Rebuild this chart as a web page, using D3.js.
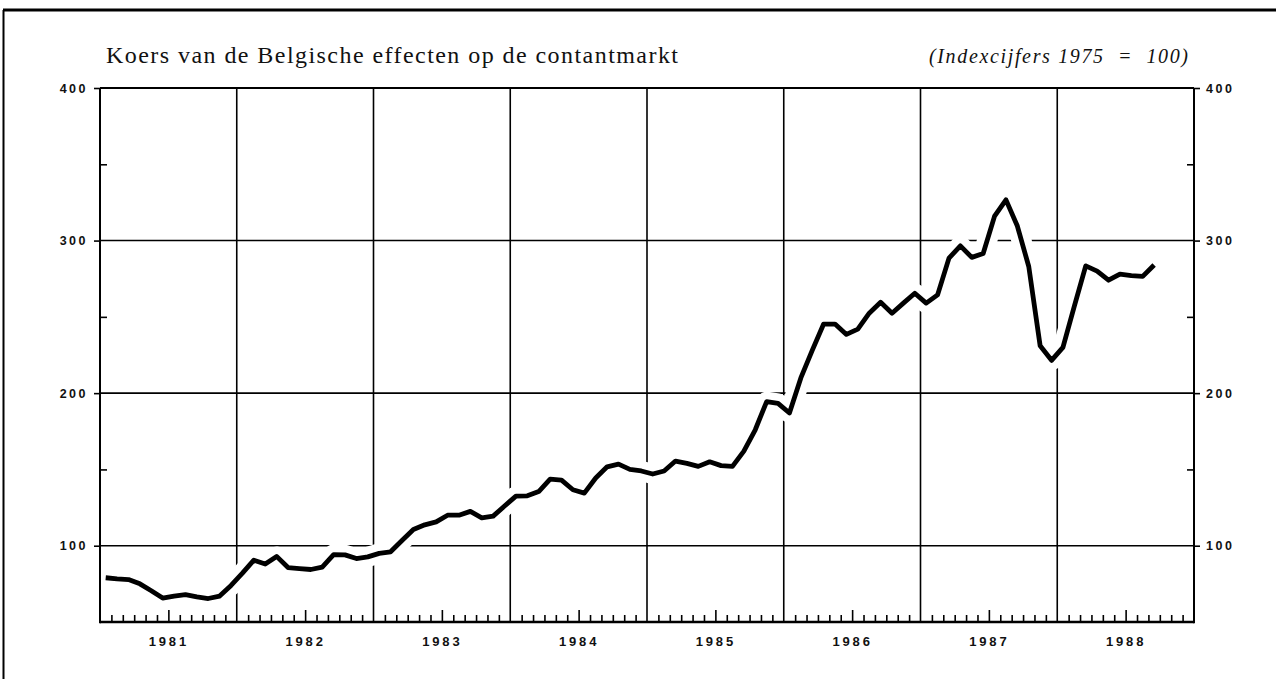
<!DOCTYPE html>
<html>
<head>
<meta charset="utf-8">
<script src="https://cdn.jsdelivr.net/npm/d3@7"></script>
<style>
  html, body { margin: 0; padding: 0; background: #fff; }
  svg { display: block; }
  .ylab { font-family: "Liberation Sans", Arial, sans-serif; font-weight: bold; font-size: 12.5px; letter-spacing: 2.5px; fill: #111; }
  .xlab { font-family: "Liberation Sans", Arial, sans-serif; font-weight: bold; font-size: 13px; letter-spacing: 2.8px; fill: #111; }
</style>
</head>
<body>
<svg id="chart" width="1276" height="679"></svg>
<script>
// ---- data (monthly index, 1975 = 100), Jan 1981 .. Sep 1988 ----
const years = [1981, 1982, 1983, 1984, 1985, 1986, 1987, 1988];
const values1981 = [79, 78.3, 77.8, 75, 70.5, 65.7, 67, 68, 66.5, 65.4, 67, 74];
const values1982 = [82, 90.5, 88, 93, 85.7, 85, 84.4, 86, 94.2, 94, 91.6, 92.7];
const values1983 = [95, 96, 103.4, 110.6, 113.7, 115.6, 120, 120, 122.5, 118.3, 119.4, 126];
const values1984 = [132.5, 132.7, 135.5, 143.6, 143, 136.7, 134.5, 144.4, 151.7, 153.5, 150, 149];
const values1985 = [147, 149, 155.5, 154, 152, 155, 152.5, 152, 162, 176, 194.4, 193.3];
const values1986 = [187, 210, 228, 245.3, 245.3, 238.5, 242, 252.4, 259.6, 252.4, 259, 265.5];
const values1987 = [259, 264.4, 288.5, 296.5, 289, 291.5, 316, 326.7, 309.5, 283, 231, 221.5];
const values1988 = [230, 257, 283.4, 280, 274, 278, 277, 276.5, 284];
const yMajorTicks = [100, 200, 300, 400];
const yMinorTicks = [150, 250, 350];
const titleText = "Koers van de Belgische effecten op de contantmarkt";
const subtitleText = "(Indexcijfers 1975  =  100)";

const series = [].concat(values1981, values1982, values1983, values1984,
                         values1985, values1986, values1987, values1988);

// ---- layout ----
const L = 100, R = 1194, T = 88, B = 622;
const svg = d3.select("#chart");

const x = d3.scaleLinear().domain([0, years.length * 12]).range([L, R]);
const y = d3.scaleLinear().domain([50, 400]).range([B, T]);

// outer page frame (top + left)
svg.append("line").attr("x1", 3).attr("x2", 1276).attr("y1", 10).attr("y2", 10)
  .attr("stroke", "#000").attr("stroke-width", 3);
svg.append("line").attr("x1", 3.5).attr("x2", 3.5).attr("y1", 10).attr("y2", 679)
  .attr("stroke", "#000").attr("stroke-width", 2);

// title
svg.append("text").attr("x", 106).attr("y", 63)
  .attr("font-family", "'Liberation Serif', 'Times New Roman', serif")
  .attr("font-size", 24).attr("fill", "#111")
  .attr("textLength", 572).attr("lengthAdjust", "spacing")
  .text(titleText);
svg.append("text").attr("x", 929).attr("y", 63)
  .attr("font-family", "'Liberation Serif', 'Times New Roman', serif")
  .attr("font-style", "italic").attr("font-size", 20).attr("fill", "#111")
  .style("white-space", "pre")
  .attr("textLength", 259).attr("lengthAdjust", "spacing")
  .text(subtitleText);

// gridlines
const grid = svg.append("g");
grid.selectAll("line.h").data([100, 200, 300]).join("line")
  .attr("x1", L).attr("x2", R).attr("y1", d => y(d)).attr("y2", d => y(d))
  .attr("stroke", "#000").attr("stroke-width", 1.6);
grid.selectAll("line.v").data(d3.range(1, years.length)).join("line")
  .attr("x1", d => x(d * 12)).attr("x2", d => x(d * 12)).attr("y1", T).attr("y2", B)
  .attr("stroke", "#000").attr("stroke-width", 1.6);

// the line (with white halo interrupting gridlines)
const line = d3.line().x((d, i) => x(i + 0.5)).y(d => y(d)).curve(d3.curveLinear);
svg.append("path").datum(series).attr("d", line)
  .attr("fill", "none").attr("stroke", "#fff").attr("stroke-width", 20)
  .attr("stroke-linejoin", "round").attr("stroke-linecap", "round");
svg.append("path").datum(series).attr("d", line)
  .attr("fill", "none").attr("stroke", "#000").attr("stroke-width", 4.8)
  .attr("stroke-linejoin", "round").attr("stroke-linecap", "butt");

// monthly ticks on bottom axis (inside)
const monthTicks = d3.range(1, years.length * 12).filter(m => m % 12 !== 0);
const xAxis = svg.append("g").attr("transform", `translate(0,${B})`)
  .call(d3.axisBottom(x).tickValues(monthTicks).tickSize(-7).tickFormat(""));
xAxis.select(".domain").remove();
xAxis.selectAll(".tick line").attr("stroke", "#000").attr("stroke-width", 1.6)
  .attr("y2", d => d % 12 === 6 ? -12 : -7);

// year labels
const yearAxis = svg.append("g").attr("transform", `translate(0,${B})`)
  .call(d3.axisBottom(x).tickValues(years.map((yr, i) => i * 12 + 6)).tickSize(0).tickPadding(15)
    .tickFormat((d) => years[(d - 6) / 12]));
yearAxis.select(".domain").remove();
yearAxis.selectAll("text").attr("class", "xlab").attr("font-size", null).attr("font-family", null).attr("fill", null);

// y axes
function yAxisGroup(gen, xPos, minorSize) {
  const g = svg.append("g").attr("transform", `translate(${xPos},0)`)
    .call(gen.tickValues(yMajorTicks).tickSize(6).tickPadding(6));
  g.select(".domain").remove();
  g.selectAll(".tick line").attr("stroke", "#000").attr("stroke-width", 1.6);
  g.selectAll("text").attr("class", "ylab").attr("font-size", null).attr("font-family", null).attr("fill", null);
  const m = svg.append("g").attr("transform", `translate(${xPos},0)`)
    .call(gen.tickValues(yMinorTicks).tickSize(minorSize).tickFormat(""));
  m.select(".domain").remove();
  m.selectAll(".tick line").attr("stroke", "#000").attr("stroke-width", 1.6);
}
yAxisGroup(d3.axisLeft(y), L, -7);
yAxisGroup(d3.axisRight(y), R, -7);

// plot frame
svg.append("line").attr("x1", L).attr("x2", R).attr("y1", T).attr("y2", T)
  .attr("stroke", "#000").attr("stroke-width", 1.8);
svg.append("line").attr("x1", L).attr("x2", R).attr("y1", B).attr("y2", B)
  .attr("stroke", "#000").attr("stroke-width", 2.6);
svg.append("line").attr("x1", L).attr("x2", L).attr("y1", T).attr("y2", B + 1.3)
  .attr("stroke", "#000").attr("stroke-width", 2);
svg.append("line").attr("x1", R).attr("x2", R).attr("y1", T).attr("y2", B + 1.3)
  .attr("stroke", "#000").attr("stroke-width", 2);
</script>
</body>
</html>
